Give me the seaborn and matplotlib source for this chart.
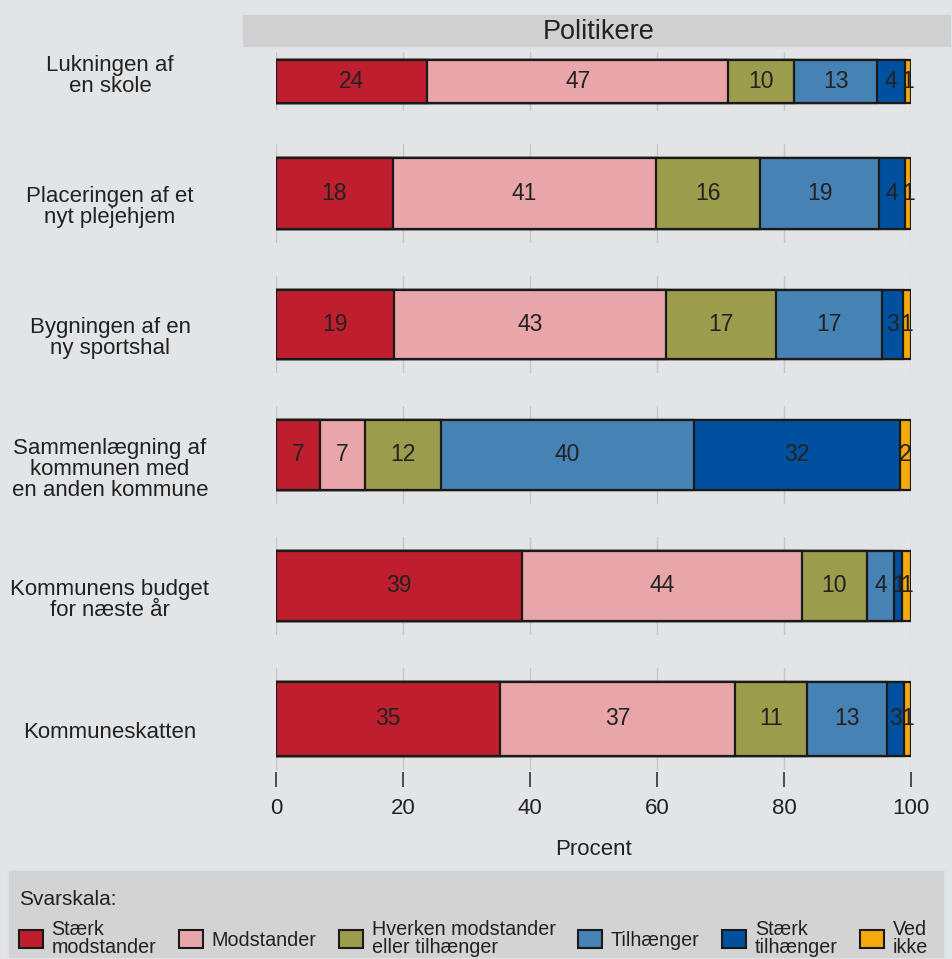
import numpy as np
import matplotlib
matplotlib.use("Agg")
import matplotlib.pyplot as plt
import seaborn as sns
from matplotlib.patches import Patch, Rectangle

# ── Data ────────────────────────────────────────────────────────────────────
ITEMS = [
    "Lukningen af\nen skole",
    "Placeringen af et\nnyt plejehjem",
    "Bygningen af en\nny sportshal",
    "Sammenlægning af\nkommunen med\nen anden kommune",
    "Kommunens budget\nfor næste år",
    "Kommuneskatten",
]
SVAR = [
    "Stærk\nmodstander",
    "Modstander",
    "Hverken modstander\neller tilhænger",
    "Tilhænger",
    "Stærk\ntilhænger",
    "Ved\nikke",
]
STAERK_MOD = [23.8, 18.4, 18.6, 6.9, 38.8, 35.3]
MODSTANDER = [47.4, 41.4, 42.8, 7.1, 44.1, 37.0]
HVERKEN = [10.4, 16.4, 17.4, 12.0, 10.1, 11.3]
TILHAENGER = [13.1, 18.8, 16.7, 39.8, 4.4, 12.6]
STAERK_TIL = [4.3, 4.1, 3.2, 32.4, 1.2, 2.7]
VED_IKKE = [1.0, 0.9, 1.3, 1.8, 1.4, 1.1]
SERIER = [STAERK_MOD, MODSTANDER, HVERKEN, TILHAENGER, STAERK_TIL, VED_IKKE]
X_TICKS = [0, 20, 40, 60, 80, 100]
PANEL_TITEL = "Politikere"

# ── Stil ────────────────────────────────────────────────────────────────────
FARVER = ["#be1e2d", "#e8a5aa", "#9c9c4d", "#4682b4", "#0050a0", "#f5a90a"]
BG = "#e3e4e6"
KANT = "#1a1a1a"
W, H = 952, 959
PANEL_H = [59, 99, 97, 98, 98, 102]
LABEL_DY = [-6, 14, 14, 15, 14, 14]   # px, label-forskydning ift. bjælken

sns.set_theme(style="white")
plt.rcParams["font.family"] = ["Liberation Sans", "DejaVu Sans"]
plt.rcParams["text.color"] = "#222222"
plt.rcParams["axes.labelcolor"] = "#222222"
plt.rcParams["xtick.color"] = "#222222"

fig = plt.figure(figsize=(W / 100, H / 100), dpi=100, facecolor=BG)
gs = fig.add_gridspec(6, 1, height_ratios=PANEL_H,
                      left=276 / W, right=911 / W,
                      top=1 - 52 / H, bottom=1 - 770 / H, hspace=0.358)

for i, item in enumerate(ITEMS):
    ax = fig.add_subplot(gs[i])
    ax.set_facecolor(BG)
    vals = [s[i] for s in SERIER]
    cum = np.cumsum(vals)
    # stablede bjælker: længste først, kortere ovenpå
    for k in reversed(range(len(vals))):
        sns.barplot(x=[cum[k]], y=[item], orient="h", color=FARVER[k],
                    saturation=1, width=0.717, edgecolor=KANT,
                    linewidth=1.6, ax=ax)
    for k, v in enumerate(vals):
        ax.text(cum[k] - v / 2, 0, f"{round(v)}", ha="center", va="center",
                fontsize=16.5, color="#222222")

    ax.set_xlim(0, 100)
    ax.set_xticks(X_TICKS)
    ax.grid(axis="x", color="#c6c6c6", linewidth=1)
    ax.set_axisbelow(True)
    ax.set(xlabel="", ylabel="")
    ax.set_yticks([])
    sns.despine(ax=ax, left=True, bottom=True)

    ax.annotate(item, xy=(0, 0.5), xycoords="axes fraction",
                xytext=(-(276 - 110) * 0.72, -LABEL_DY[i] * 0.72),
                textcoords="offset points", ha="center", va="center",
                fontsize=16, linespacing=1.0)

    if i < len(ITEMS) - 1:
        ax.tick_params(axis="x", bottom=False, labelbottom=False)
    else:
        ax.spines["bottom"].set_position(("outward", 1.5))
        ax.tick_params(axis="x", bottom=True, length=11, width=1.1,
                       color="#222222", pad=8, labelsize=16)
        ax.set_xlabel("Procent", fontsize=16, labelpad=14)

# ── Panel-titel ─────────────────────────────────────────────────────────────
fig.patches.append(Rectangle((242 / W, 1 - 48 / H), (W - 242) / W, 34 / H,
                             transform=fig.transFigure, facecolor="#d0d0d0",
                             edgecolor="#dbe2e8", linewidth=1.5, zorder=0))
fig.text(599 / W, 1 - 32 / H, PANEL_TITEL, ha="center", va="center",
         fontsize=19.5)

# ── Legende ─────────────────────────────────────────────────────────────────
fig.patches.append(Rectangle((8 / W, 0), 937 / W, 89 / H,
                             transform=fig.transFigure, facecolor="#d3d3d3",
                             edgecolor="#dbe2e8", linewidth=1.5, zorder=0))
handles = [Patch(facecolor=c, edgecolor=KANT, linewidth=1.5) for c in FARVER]
leg = fig.legend(handles, SVAR, loc="upper left",
                 bbox_to_anchor=(19 / W, 1 - 890 / H), ncol=6, frameon=False,
                 fontsize=14.2, title="Svarskala:", title_fontsize=15,
                 alignment="left", handlelength=1.2, handleheight=1.0,
                 handletextpad=0.45, columnspacing=1.15, borderpad=0,
                 borderaxespad=0, labelspacing=0.55)
for t in leg.get_texts():
    t.set_linespacing(0.95)

fig.savefig("out.png", dpi=100, facecolor=BG)
